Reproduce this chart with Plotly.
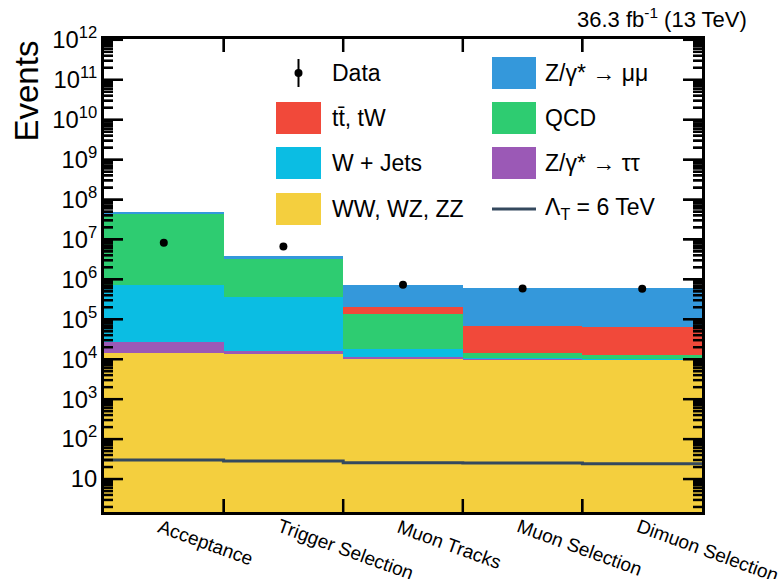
import math
import plotly.graph_objects as go

# ---------------- data ----------------
categories = ["Acceptance", "Trigger Selection", "Muon Tracks", "Muon Selection", "Dimuon Selection"]

diboson = [1.4e4, 1.35e4, 1.04e4, 1.0e4, 9.6e3]      # WW, WZ, ZZ
ztautau = [1.3e4, 2.3e3, 8.0e2, 3.0e2, 3.0e2]        # Z/gamma* -> tautau
wjets = [6.9e5, 3.4e5, 7.3e3, 5.0e2, 2.5e2]          # W + Jets
qcd = [4.5e7, 2.9e6, 1.2e5, 3.3e3, 2.6e3]            # QCD
ttbar = [5.0e4, 2.0e4, 6.0e4, 5.3e4, 5.0e4]          # tt, tW
zmumu = [3.0e5, 5.2e5, 5.4e5, 5.5e5, 5.3e5]          # Z/gamma* -> mumu
data = [8.3e6, 6.7e6, 7.3e5, 5.9e5, 5.8e5]
signal = [30, 28.3, 25.7, 25.3, 24.3]                # Lambda_T = 6 TeV

# ---------------- style ----------------
C_YEL = "#f4cf3e"
C_PUR = "#9b59b6"
C_CYA = "#0bbde3"
C_GRN = "#2ecc71"
C_RED = "#f1493a"
C_BLU = "#3498db"
C_SIG = "#34495e"
FONT = "Liberation Sans"

W, H = 778, 579
L, R, T, B = 104, 702, 39, 512
YRANGE = [0.175, 12.02]


def px(x):
    return (x - L) / (R - L)


def py(y):
    return (B - y) / (B - T)


def ylog_paper(v):
    return (math.log10(v) - YRANGE[0]) / (YRANGE[1] - YRANGE[0])


n = len(categories)
centers = list(range(n))
edges = [i - 0.5 for i in range(n + 1)]

fig = go.Figure()
stack = [(diboson, C_YEL), (ztautau, C_PUR), (wjets, C_CYA), (qcd, C_GRN), (ttbar, C_RED), (zmumu, C_BLU)]
for vals, col in stack:
    fig.add_trace(go.Bar(x=centers, y=vals, width=1, marker=dict(color=col, line=dict(width=0)),
                         showlegend=False, hoverinfo="skip"))

# signal step line
fig.add_trace(go.Scatter(x=edges, y=signal + [signal[-1]], mode="lines", line_shape="hv",
                         line=dict(color=C_SIG, width=3), showlegend=False, hoverinfo="skip"))

fig.add_trace(go.Scatter(x=centers, y=data, mode="markers",
                         marker=dict(color="black", size=8), showlegend=False))

fig.update_layout(
    width=W, height=H,
    margin=dict(l=L, r=W - R, t=T, b=H - B),
    barmode="stack", bargap=0,
    plot_bgcolor="white", paper_bgcolor="white",
    font=dict(family=FONT, color="black"),
    showlegend=False,
    xaxis=dict(range=[-0.5, 4.5], tickmode="array", tickvals=edges, showticklabels=False,
               ticks="inside", ticklen=13, tickwidth=2, tickcolor="#000000",
               showline=True, linecolor="#000000", linewidth=3, mirror="ticks",
               showgrid=False, zeroline=False, automargin=False),
    yaxis=dict(type="log", range=YRANGE,
               tickmode="linear", tick0=0, dtick=1, exponentformat="power",
               ticks="inside", ticklen=19, tickwidth=2, tickcolor="#000000",
               minor=dict(ticks="inside", ticklen=9, tickwidth=2, tickcolor="#000000",
                          dtick="D1", showgrid=False),
               showline=True, linecolor="#000000", linewidth=3, mirror="ticks",
               tickfont=dict(size=19, family=FONT),
               showgrid=False, zeroline=False, automargin=False),
)

# explicit frame tick marks (ROOT style, on all four sides)
major_y = [10 ** k for k in range(1, 13)]
minor_y = [m * 10 ** k for k in range(0, 12) for m in range(2, 10)
           if math.log10(m * 10 ** k) >= YRANGE[0]]
tl_major = 19 / (R - L)
tl_minor = 9 / (R - L)
for vals, tl in [(major_y, tl_major), (minor_y, tl_minor)]:
    for v in vals:
        yp = ylog_paper(v)
        fig.add_shape(type="line", xref="paper", yref="paper", x0=0, x1=tl, y0=yp, y1=yp,
                      line=dict(color="black", width=2.5), layer="above")
        fig.add_shape(type="line", xref="paper", yref="paper", x0=1 - tl, x1=1, y0=yp, y1=yp,
                      line=dict(color="black", width=2.5), layer="above")
xt = 13 / (B - T)
for e in edges[1:-1]:
    fig.add_shape(type="line", xref="x", yref="paper", x0=e, x1=e, y0=0, y1=xt,
                  line=dict(color="black", width=2.5), layer="above")
    fig.add_shape(type="line", xref="x", yref="paper", x0=e, x1=e, y0=1 - xt, y1=1,
                  line=dict(color="black", width=2.5), layer="above")

# category labels below the axis (rotated)
for i, cat in enumerate(categories):
    fig.add_annotation(x=centers[i], y=0, xref="x", yref="paper", text=cat, textangle=20,
                       showarrow=False, xanchor="left", yanchor="top", xshift=-11, yshift=-1,
                       font=dict(size=19, family=FONT))

# title annotations
fig.add_annotation(x=px(26), y=1.0, xref="paper", yref="paper", text="Events",
                   textangle=-90, showarrow=False, xanchor="center", yanchor="top",
                   font=dict(size=33, family=FONT))
fig.add_annotation(x=px(749), y=py(18), xref="paper", yref="paper",
                   text="36.3 fb<sup>-1</sup> (13 TeV)", showarrow=False,
                   xanchor="right", yanchor="middle", font=dict(size=22, family=FONT))

# manual legend
leg_rows = [73, 118, 163, 209]
col_box = [(276, 321), (492, 536)]
col_text = [330, 543]
legend_items = [
    (0, 0, "Data", "data"),
    (1, 0, "Z/γ* → μμ", C_BLU),
    (0, 1, "tt̄, tW", C_RED),
    (1, 1, "QCD", C_GRN),
    (0, 2, "W + Jets", C_CYA),
    (1, 2, "Z/γ* → ττ", C_PUR),
    (0, 3, "WW, WZ, ZZ", C_YEL),
    (1, 3, "Λ<sub>T</sub> = 6 TeV", "signal"),
]
for c, r, label, kind in legend_items:
    yc = leg_rows[r]
    x0, x1 = col_box[c]
    if kind == "data":
        xm = (x0 + x1) / 2
        fig.add_shape(type="line", xref="paper", yref="paper", x0=px(xm), x1=px(xm),
                      y0=py(yc - 14), y1=py(yc + 14), line=dict(color="black", width=2))
        fig.add_shape(type="circle", xref="paper", yref="paper", x0=px(xm - 4), x1=px(xm + 4),
                      y0=py(yc - 4), y1=py(yc + 4), fillcolor="black", line=dict(width=0))
    elif kind == "signal":
        fig.add_shape(type="line", xref="paper", yref="paper", x0=px(x0), x1=px(x1),
                      y0=py(yc), y1=py(yc), line=dict(color=C_SIG, width=3))
    else:
        fig.add_shape(type="rect", xref="paper", yref="paper", x0=px(x0), x1=px(x1),
                      y0=py(yc - 16), y1=py(yc + 16), fillcolor=kind, line=dict(width=0))
    fig.add_annotation(x=px(col_text[c]), y=py(yc), xref="paper", yref="paper", text=label,
                       showarrow=False, xanchor="left", yanchor="middle",
                       font=dict(size=23, family=FONT))

fig.write_html("out.html")
